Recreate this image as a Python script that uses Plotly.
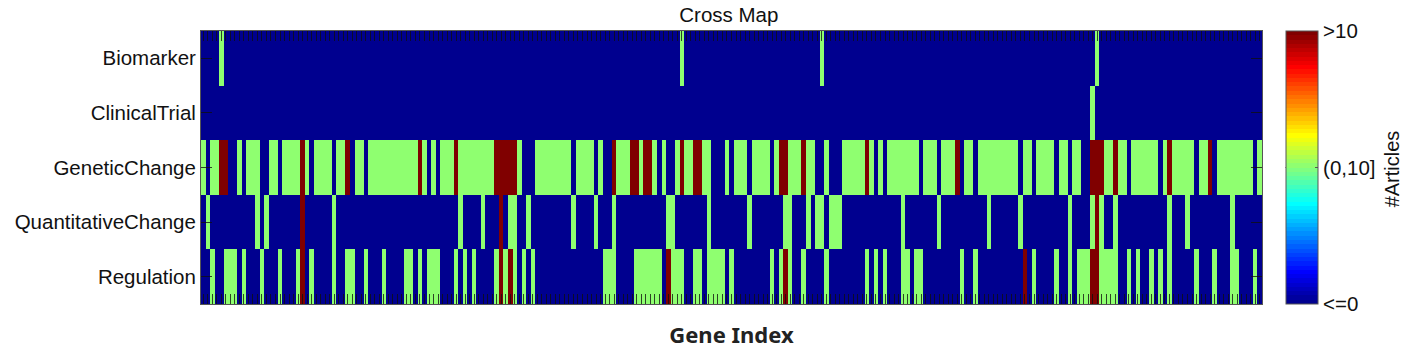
import plotly.graph_objects as go

categories = ["Biomarker", "ClinicalTrial", "GeneticChange", "QuantitativeChange", "Regulation"]
gene_count = 235

# Gene positions (0-based) falling in the middle bin (0,10] and the top bin >10
biomarker_some = [4, 106, 137, 198]
biomarker_many = []
clinical_some = [197]
clinical_many = []
genetic_some = [0, 2, 3, 8, 10, 11, 12, 15, 16, 18, 19, 20, 21, 23, 25, 26, 27, 28, 30, 31, 34, 35,
                37, 38, 39, 40, 41, 42, 43, 44, 45, 46, 47, 49, 51, 53, 54, 55,
                57, 58, 59, 60, 61, 62, 63, 64, 70, 74, 75, 76, 77, 78, 79, 80, 81,
                83, 84, 85, 86, 88, 92, 93, 94, 97, 100, 102, 105, 107, 108, 111, 112, 116,
                118, 119, 120, 122, 123, 124, 125, 127, 130, 131, 132, 134, 135, 138,
                142, 143, 144, 145, 146, 148, 150, 152, 153, 154, 155, 156, 157, 158,
                160, 161, 162, 164, 165, 166, 169, 170, 172, 173, 174, 175, 176, 177, 178, 179, 180,
                182, 183, 185, 186, 187, 188, 190, 191, 193, 194, 200, 201, 203, 204,
                206, 207, 208, 209, 210, 211, 213, 215, 216, 217, 218, 219, 221, 222,
                225, 226, 227, 228, 229, 230, 231, 232, 234]
genetic_many = [4, 5, 22, 32, 48, 56, 65, 66, 67, 68, 69, 91, 95, 96, 98, 99, 106, 109, 110,
                128, 129, 133, 147, 167, 197, 198, 199, 202, 214, 223]
quant_some = [1, 12, 14, 29, 57, 62, 68, 69, 72, 82, 87, 91, 103, 104, 112, 121, 129, 130, 134,
              136, 137, 139, 140, 141, 155, 163, 174, 181, 192, 197, 199, 202, 214, 218, 228]
quant_many = [22, 66, 198]
reg_some = [2, 5, 6, 7, 9, 13, 17, 21, 24, 29, 32, 33, 36, 40, 45, 46, 48, 50, 51, 52, 56, 58, 60,
            65, 67, 69, 71, 73, 89, 90, 91, 96, 97, 98, 99, 100, 101, 104, 105, 106, 109, 110,
            112, 113, 114, 115, 117, 126, 128, 130, 133, 138, 147, 149, 151, 155, 156, 158, 159,
            168, 171, 184, 189, 192, 194, 195, 196, 199, 200, 201, 202, 205, 207, 210, 212, 214,
            220, 224, 228, 229, 233]
reg_many = [22, 66, 68, 103, 129, 182, 197, 198]

bin_labels = ["<=0", "(0,10]", ">10"]
bin_values = [0, 1, 2]

rows = [(biomarker_some, biomarker_many), (clinical_some, clinical_many),
        (genetic_some, genetic_many), (quant_some, quant_many), (reg_some, reg_many)]
z = []
for some, many in rows:
    row = [0] * gene_count
    for i in some:
        row[i] = 1
    for i in many:
        row[i] = 2
    z.append(row)


def jet64():
    out = []
    for i in range(1, 65):
        x = i / 64
        c = [min(4 * x - 1.5, -4 * x + 4.5), min(4 * x - 0.5, -4 * x + 3.5), min(4 * x + 0.5, -4 * x + 2.5)]
        c = [round(255 * max(0, min(1, v))) for v in c]
        out.append(f"rgb({c[0]},{c[1]},{c[2]})")
    return out


scale = []
for i, col in enumerate(jet64()):
    scale.append([i / 64, col])
    scale.append([(i + 1) / 64, col])

FONT = "Liberation Sans"
W, H = 1412, 357
L, R, T, B = 200.5, 1262.5, 30.7, 304.3
TICK = "rgba(15,15,15,0.78)"

fig = go.Figure(go.Heatmap(
    z=z,
    x=list(range(1, gene_count + 1)),
    y=categories,
    zmin=0, zmax=2,
    colorscale=scale,
    colorbar=dict(
        x=1286 / W, xanchor="left", xref="container",
        y=0.5, yanchor="middle",
        len=1, lenmode="fraction",
        thickness=32, thicknessmode="pixels",
        xpad=0, ypad=0,
        outlinecolor="#555555", outlinewidth=1,
        tickmode="array", tickvals=bin_values, ticktext=bin_labels,
        ticks="inside", ticklen=3, tickcolor="#555555", tickwidth=1,
        tickfont=dict(family=FONT, size=20.5, color="#111111"),
    ),
))

fig.update_layout(
    width=W, height=H,
    margin=dict(l=L, r=W - R, t=T, b=H - B, pad=0, autoexpand=False),
    paper_bgcolor="white", plot_bgcolor="white",
    font=dict(family=FONT, color="#111111"),
    title=dict(text="Cross Map", x=0.4975, xref="paper", xanchor="center", y=1 - 15 / H, yref="container",
               yanchor="middle", font=dict(family=FONT, size=20.5, color="#111111")),
    xaxis=dict(
        range=[0.5, gene_count + 0.5], tickmode="linear", tick0=1, dtick=1,
        ticks="inside", ticklen=10, tickwidth=1, tickcolor=TICK,
        showticklabels=False, showgrid=False, zeroline=False,
        showline=True, linecolor="#555555", linewidth=1, mirror="ticks",
        title=dict(text="Gene Index", standoff=23, font=dict(family="Noto Sans", size=22, weight="bold", color="#222222")),
    ),
    yaxis=dict(
        autorange="reversed",
        ticks="inside", ticklen=11, tickwidth=1, tickcolor=TICK,
        tickfont=dict(family=FONT, size=20.5, color="#111111"),
        showgrid=False, zeroline=False,
        showline=True, linecolor="#555555", linewidth=1, mirror="ticks",
    ),
    annotations=[dict(text="#Articles", textangle=-90, xref="paper", yref="paper",
                      x=(1393 - L) / (R - L), y=(B - 169) / (B - T), xanchor="center", yanchor="middle",
                      showarrow=False, font=dict(family=FONT, size=20, color="#111111"))],
    shapes=[dict(type="line", xref="paper", yref="paper",
                 x0=(1286 - L) / (R - L), x1=(1289 - L) / (R - L), y0=0.5, y1=0.5,
                 line=dict(color="#555555", width=1))],
)

fig.write_html("out.html", config=dict(displayModeBar=False),
               post_script="document.body.style.margin='0';document.documentElement.style.overflow='hidden';")
